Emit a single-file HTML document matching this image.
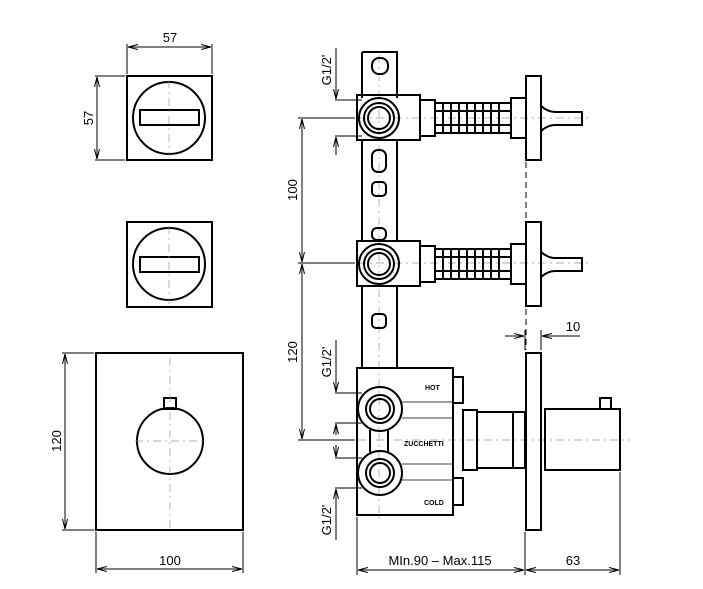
<!DOCTYPE html><html><head><style>body{margin:0;background:#fff}svg{display:block}text{font-family:"Liberation Sans",sans-serif;fill:#000}</style></head><body>
<svg width="703" height="589" viewBox="0 0 703 589" xmlns="http://www.w3.org/2000/svg">
<defs><marker id="a" markerWidth="10" markerHeight="6" refX="10" refY="3" orient="auto-start-reverse"><path d="M0,0.5L10,3L0,5.5" fill="none" stroke="#000" stroke-width="1"/></marker></defs>
<g fill="none" stroke="#000" stroke-width="2">
<!-- top plate -->
<rect x="127" y="76" width="85" height="84"/><circle cx="169" cy="118" r="36"/><rect x="140" y="110" width="59" height="15"/>
<rect x="127" y="222" width="85" height="85"/><circle cx="169" cy="264" r="36"/><rect x="140" y="257" width="59" height="15"/>
<rect x="96" y="353" width="147" height="177"/><circle cx="170" cy="441" r="33"/><rect x="164" y="398" width="12" height="11"/>
</g>
<g stroke="#999" stroke-width="0.7" stroke-dasharray="8,4,2,4">
<line x1="169" y1="80" x2="169" y2="156"/><line x1="169" y1="226" x2="169" y2="304"/><line x1="170" y1="358" x2="170" y2="530"/><line x1="135" y1="441" x2="205" y2="441"/>
<line x1="340" y1="118" x2="590" y2="118"/><line x1="340" y1="263" x2="590" y2="263"/><line x1="379" y1="55" x2="379" y2="520"/><line x1="340" y1="440" x2="630" y2="440"/>
</g>
<!-- dims left -->
<g stroke="#000" stroke-width="1" fill="none">
<line x1="127" y1="44" x2="127" y2="74"/><line x1="212" y1="44" x2="212" y2="74"/><line x1="128" y1="47" x2="211" y2="47" marker-start="url(#a)" marker-end="url(#a)"/>
<line x1="95" y1="76" x2="125" y2="76"/><line x1="95" y1="160" x2="125" y2="160"/><line x1="97" y1="77" x2="97" y2="159" marker-start="url(#a)" marker-end="url(#a)"/>
<line x1="62" y1="353" x2="94" y2="353"/><line x1="62" y1="530" x2="94" y2="530"/><line x1="65" y1="354" x2="65" y2="529" marker-start="url(#a)" marker-end="url(#a)"/>
<line x1="96" y1="532" x2="96" y2="573"/><line x1="243" y1="532" x2="243" y2="573"/><line x1="97" y1="569" x2="242" y2="569" marker-start="url(#a)" marker-end="url(#a)"/>
<!-- right dims -->
<line x1="298" y1="118" x2="355" y2="118"/><line x1="298" y1="263" x2="355" y2="263"/><line x1="298" y1="440" x2="355" y2="440"/>
<line x1="302" y1="119" x2="302" y2="262" marker-start="url(#a)" marker-end="url(#a)"/><line x1="302" y1="264" x2="302" y2="439" marker-start="url(#a)" marker-end="url(#a)"/>
<line x1="335" y1="100" x2="362" y2="100"/><line x1="335" y1="136" x2="362" y2="136"/><line x1="336" y1="48" x2="336" y2="99" marker-end="url(#a)"/><line x1="336" y1="137" x2="336" y2="155" marker-start="url(#a)"/>
<line x1="335" y1="393" x2="362" y2="393"/><line x1="335" y1="423" x2="362" y2="423"/><line x1="336" y1="340" x2="336" y2="392" marker-end="url(#a)"/><line x1="336" y1="424" x2="336" y2="435" marker-start="url(#a)"/>
<line x1="335" y1="458" x2="362" y2="458"/><line x1="335" y1="488" x2="362" y2="488"/><line x1="336" y1="445" x2="336" y2="457" marker-end="url(#a)"/><line x1="336" y1="489" x2="336" y2="540" marker-start="url(#a)"/>
<line x1="357" y1="517" x2="357" y2="575"/><line x1="525" y1="532" x2="525" y2="575"/><line x1="620" y1="472" x2="620" y2="575"/>
<line x1="358" y1="570" x2="524" y2="570" marker-start="url(#a)" marker-end="url(#a)"/><line x1="526" y1="570" x2="619" y2="570" marker-start="url(#a)" marker-end="url(#a)"/>
<line x1="525" y1="330" x2="525" y2="350"/><line x1="541" y1="330" x2="541" y2="350"/><line x1="505" y1="336" x2="524" y2="336" marker-end="url(#a)"/><line x1="580" y1="336" x2="542" y2="336" marker-end="url(#a)"/>
<line x1="526" y1="162" x2="526" y2="220" stroke-dasharray="6,4"/><line x1="526" y1="309" x2="526" y2="350" stroke-dasharray="6,4"/>
</g>
<!-- valve body -->
<g fill="none" stroke="#000" stroke-width="2">
<path d="M362,52 H397 V98 M362,52 V98 M362,140 V240 M397,140 V240 M362,286 V368 M397,286 V368"/>
<rect x="372" y="58" width="16" height="16" rx="7"/><rect x="372" y="150" width="14" height="22" rx="6"/><rect x="372" y="182" width="14" height="14" rx="4"/><rect x="372" y="228" width="14" height="12" rx="5"/><rect x="372" y="314" width="14" height="14" rx="4"/>
<rect x="357" y="95" width="63" height="45"/><circle cx="379" cy="118" r="20"/><circle cx="379" cy="118" r="15"/><circle cx="379" cy="118" r="11"/>
<rect x="357" y="241" width="63" height="45"/><circle cx="379" cy="264" r="20"/><circle cx="379" cy="264" r="15"/><circle cx="379" cy="264" r="11"/>
<g id="h"><rect x="420" y="100" width="15" height="36"/><rect x="435" y="103" width="76" height="30"/><path d="M443,103V133M451,103V133M459,103V133M467,103V133M475,103V133M483,103V133M491,103V133M499,103V133M435,111H511M435,125H511"/><rect x="511" y="98" width="15" height="40"/><rect x="526" y="76" width="15" height="84"/><path d="M541,106 Q548,112 555,112 H582 V125 H555 Q548,125 541,131"/></g>
<use href="#h" y="146"/>
<rect x="357" y="368" width="96" height="147"/><rect x="453" y="377" width="10" height="26"/><rect x="453" y="478" width="10" height="27"/>
<circle cx="380" cy="409" r="22"/><circle cx="380" cy="409" r="14"/><circle cx="380" cy="409" r="10"/>
<circle cx="380" cy="473" r="22"/><circle cx="380" cy="473" r="14"/><circle cx="380" cy="473" r="10"/>
<path d="M370,430 V452 M388,430 V452"/>
<rect x="463" y="410" width="14" height="60"/><rect x="477" y="412" width="36" height="56"/><rect x="513" y="412" width="12" height="56"/>
<rect x="526" y="353" width="15" height="177"/><rect x="545" y="409" width="75" height="61"/><rect x="600" y="398" width="11" height="11"/>
</g>
<g stroke="#000" stroke-width="0.8"><line x1="402" y1="402" x2="453" y2="402"/><line x1="402" y1="418" x2="453" y2="418"/><line x1="402" y1="464" x2="453" y2="464"/><line x1="402" y1="480" x2="453" y2="480"/></g>
<g font-size="13">
<text x="170" y="42" text-anchor="middle">57</text>
<text transform="translate(93,118) rotate(-90)" text-anchor="middle">57</text>
<text transform="translate(61,441) rotate(-90)" text-anchor="middle">120</text>
<text x="170" y="565" text-anchor="middle">100</text>
<text transform="translate(297,190) rotate(-90)" text-anchor="middle">100</text>
<text transform="translate(297,352) rotate(-90)" text-anchor="middle">120</text>
<text transform="translate(331,70) rotate(-90)" text-anchor="middle">G1/2'</text>
<text transform="translate(331,362) rotate(-90)" text-anchor="middle">G1/2'</text>
<text transform="translate(331,520) rotate(-90)" text-anchor="middle">G1/2'</text>
<text x="440" y="565" text-anchor="middle">MIn.90  –  Max.115</text>
<text x="573" y="565" text-anchor="middle">63</text>
<text x="573" y="331" text-anchor="middle">10</text>
</g>
<g font-size="7" font-weight="bold"><text x="425" y="390">HOT</text><text x="404" y="446">ZUCCHETTI</text><text x="424" y="505">COLD</text></g>
</svg></body></html>
